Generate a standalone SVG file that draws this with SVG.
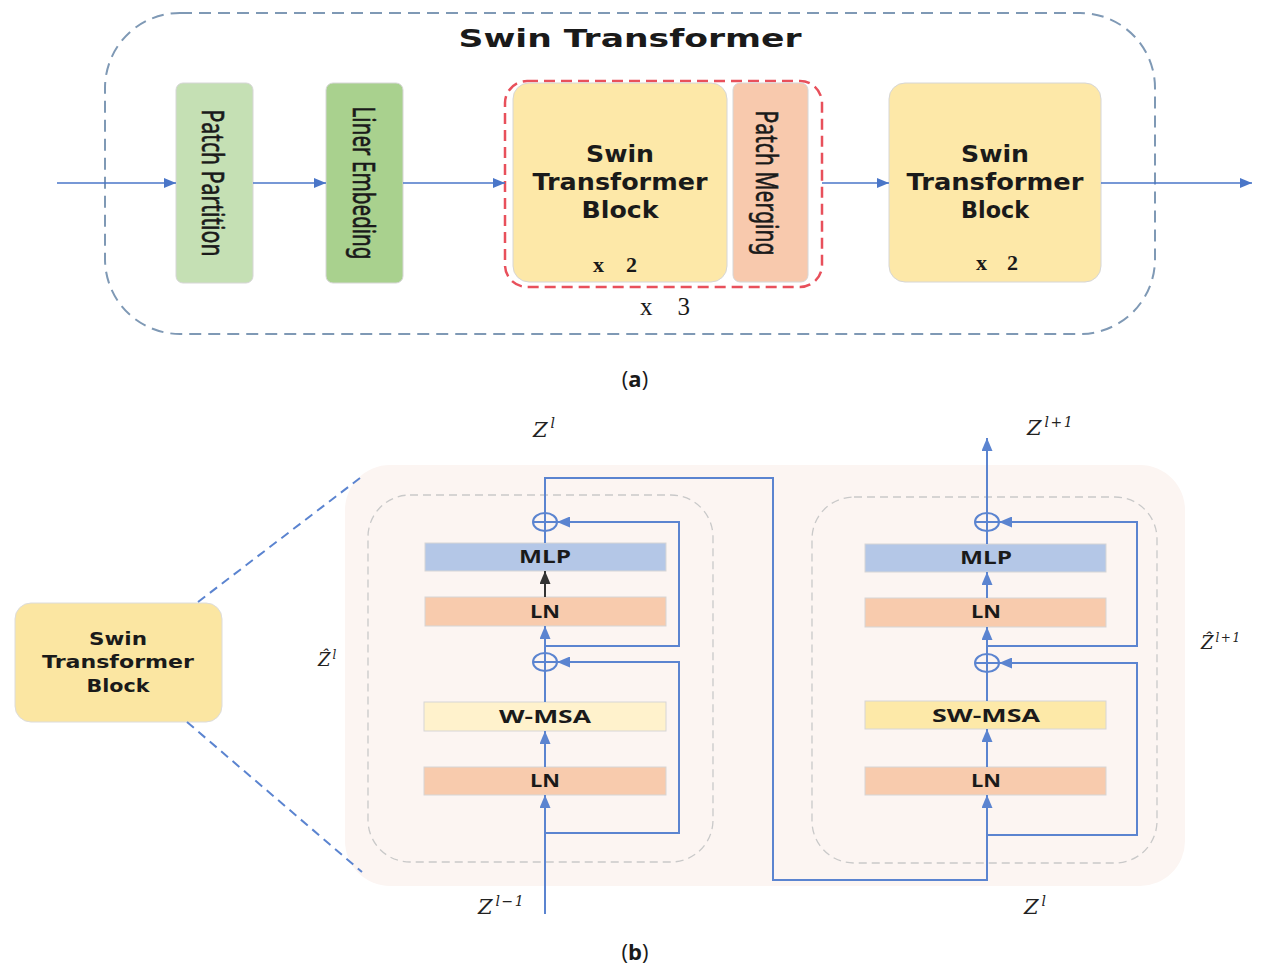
<svg xmlns="http://www.w3.org/2000/svg" width="1270" height="966" viewBox="0 0 1270 966">
<defs>
<style>
.sans{font-family:"DejaVu Sans",Verdana,sans-serif;font-weight:bold;fill:#1a1a1a}
.rot{font-family:"Noto Sans","Open Sans",sans-serif;fill:#1a1a1a;stroke:#1a1a1a;stroke-width:0.45}
.lab{font-family:"Open Sans","Noto Sans",sans-serif;font-weight:bold;fill:#1a1a1a}
.math{font-family:"DejaVu Serif","Liberation Serif",serif;font-style:italic;fill:#222}
.ser{font-family:"Liberation Serif","DejaVu Serif",serif;fill:#1a1a1a}
.cap{font-family:"Open Sans","Noto Sans",sans-serif;fill:#1a1a1a;font-size:22px}
.box{stroke:#d6d6d6;stroke-width:1}
.con{fill:none;stroke:#5b84d0;stroke-width:2}
.dash{fill:none;stroke:#5b84d0;stroke-width:2;stroke-dasharray:9 6}
</style>
<marker id="ah" viewBox="0 0 12 10" refX="12" refY="5" markerWidth="12" markerHeight="10" markerUnits="userSpaceOnUse" orient="auto"><path d="M0,0 L12,5 L0,10 z" fill="#4a76c8"/></marker>
<marker id="ahb" viewBox="0 0 13 11" refX="13" refY="5.5" markerWidth="13" markerHeight="11" markerUnits="userSpaceOnUse" orient="auto"><path d="M0,0 L13,5.5 L0,11 z" fill="#5b84d0"/></marker>
<marker id="ahk" viewBox="0 0 13 11" refX="13" refY="5.5" markerWidth="13" markerHeight="11" markerUnits="userSpaceOnUse" orient="auto"><path d="M0,0 L13,5.5 L0,11 z" fill="#333"/></marker>
</defs>
<rect width="1270" height="966" fill="#ffffff"/>

<!-- (a) -->
<g id="swin-transformer-frame">
<rect x="105" y="13" width="1050" height="321" rx="75" fill="none" stroke="#7f99b5" stroke-width="2" stroke-dasharray="12 7"/>
<text class="sans" x="630" y="47" font-size="25" text-anchor="middle" textLength="343" lengthAdjust="spacingAndGlyphs">Swin Transformer</text>
</g>
<g id="patch-partition">
<rect class="box" x="176" y="83" width="77" height="200" rx="7" fill="#c5e0b4"/>
<text class="rot" transform="translate(202,183) rotate(90) scale(1,1.35)" x="0" y="0" font-size="23" text-anchor="middle" textLength="147" lengthAdjust="spacingAndGlyphs">Patch Partition</text>
</g>
<g id="liner-embedding">
<rect class="box" x="326" y="83" width="77" height="200" rx="7" fill="#a9d18e"/>
<text class="rot" transform="translate(353,183) rotate(90) scale(1,1.35)" x="0" y="0" font-size="23" text-anchor="middle" textLength="153" lengthAdjust="spacingAndGlyphs">Liner Embeding</text>
</g>
<g id="stage-repeat">
<rect x="505" y="81" width="317" height="206" rx="22" fill="none" stroke="#e8505b" stroke-width="2.5" stroke-dasharray="11 6"/>
<text class="ser" x="665" y="315" font-size="25" text-anchor="middle" textLength="50" lengthAdjust="spacing">x 3</text>
</g>
<g id="swin-block-1">
<rect class="box" x="513" y="83" width="214" height="199" rx="16" fill="#fde8a8"/>
<text class="sans" x="620" y="162" font-size="23" text-anchor="middle" textLength="68" lengthAdjust="spacingAndGlyphs">Swin</text>
<text class="sans" x="620" y="190" font-size="23" text-anchor="middle" textLength="175" lengthAdjust="spacingAndGlyphs">Transformer</text>
<text class="sans" x="620" y="218" font-size="23" text-anchor="middle" textLength="77" lengthAdjust="spacingAndGlyphs">Block</text>
<text class="ser" x="615" y="272" font-size="22" font-weight="bold" text-anchor="middle" textLength="44" lengthAdjust="spacing">x 2</text>
</g>
<g id="patch-merging">
<rect class="box" x="733" y="83" width="75" height="199" rx="7" fill="#f8c9ad"/>
<text class="rot" transform="translate(756,183) rotate(90) scale(1,1.35)" x="0" y="0" font-size="23" text-anchor="middle" textLength="145" lengthAdjust="spacingAndGlyphs">Patch Merging</text>
</g>
<g id="swin-block-2">
<rect class="box" x="889" y="83" width="212" height="199" rx="16" fill="#fde8a8"/>
<text class="sans" x="995" y="162" font-size="23" text-anchor="middle" textLength="68" lengthAdjust="spacingAndGlyphs">Swin</text>
<text class="sans" x="995" y="190" font-size="23" text-anchor="middle" textLength="177" lengthAdjust="spacingAndGlyphs">Transformer</text>
<text class="sans" x="995" y="218" font-size="23" text-anchor="middle" textLength="68" lengthAdjust="spacingAndGlyphs">Block</text>
<text class="ser" x="997" y="270" font-size="22" font-weight="bold" text-anchor="middle" textLength="42" lengthAdjust="spacing">x 2</text>
</g>
<g id="connectors-a" fill="none" stroke="#4a76c8" stroke-width="1.6">
<line x1="57" y1="183" x2="176" y2="183" marker-end="url(#ah)"/>
<line x1="253" y1="183" x2="326" y2="183" marker-end="url(#ah)"/>
<line x1="403" y1="183" x2="505" y2="183" marker-end="url(#ah)"/>
<line x1="822" y1="183" x2="889" y2="183" marker-end="url(#ah)"/>
<line x1="1101" y1="183" x2="1252" y2="183" marker-end="url(#ah)"/>
</g>
<text class="cap" x="635" y="387" text-anchor="middle">(<tspan font-weight="bold">a</tspan>)</text>

<!-- (b) -->
<g id="block-detail-bg">
<rect x="345" y="465" width="840" height="421" rx="45" fill="#fcf5f2"/>
<rect x="368" y="495" width="345" height="367" rx="42" fill="none" stroke="#c9c9c9" stroke-width="1.3" stroke-dasharray="8 5"/>
<rect x="812" y="497" width="345" height="366" rx="42" fill="none" stroke="#c9c9c9" stroke-width="1.3" stroke-dasharray="8 5"/>
</g>
<g id="swin-block-small">
<rect x="15" y="603" width="207" height="119" rx="16" fill="#fbe6a2" stroke="#dcdcdc" stroke-width="1"/>
<text class="sans" x="118" y="645" font-size="18" text-anchor="middle" textLength="58" lengthAdjust="spacingAndGlyphs">Swin</text>
<text class="sans" x="118" y="668" font-size="18" text-anchor="middle" textLength="152" lengthAdjust="spacingAndGlyphs">Transformer</text>
<text class="sans" x="118" y="692" font-size="18" text-anchor="middle" textLength="63" lengthAdjust="spacingAndGlyphs">Block</text>
</g>
<g id="zoom-lines">
<line class="dash" x1="198" y1="602" x2="360" y2="478"/>
<line class="dash" x1="187" y1="722" x2="362" y2="872"/>
</g>

<g id="left-mlp"><rect class="box" x="425" y="543" width="241" height="28" fill="#b4c7e7"/><text class="lab" x="545" y="563" font-size="18" text-anchor="middle" textLength="52" lengthAdjust="spacingAndGlyphs">MLP</text></g>
<g id="left-ln2"><rect class="box" x="425" y="597" width="241" height="29" fill="#f8cbad"/><text class="lab" x="545" y="618" font-size="18" text-anchor="middle" textLength="30" lengthAdjust="spacingAndGlyphs">LN</text></g>
<g id="left-wmsa"><rect class="box" x="424" y="702" width="242" height="29" fill="#fff2cc"/><text class="lab" x="545" y="723" font-size="18" text-anchor="middle" textLength="92" lengthAdjust="spacingAndGlyphs">W-MSA</text></g>
<g id="left-ln1"><rect class="box" x="424" y="767" width="242" height="28" fill="#f8cbad"/><text class="lab" x="545" y="787" font-size="18" text-anchor="middle" textLength="30" lengthAdjust="spacingAndGlyphs">LN</text></g>

<g id="right-mlp"><rect class="box" x="865" y="544" width="241" height="28" fill="#b4c7e7"/><text class="lab" x="986" y="564" font-size="18" text-anchor="middle" textLength="52" lengthAdjust="spacingAndGlyphs">MLP</text></g>
<g id="right-ln2"><rect class="box" x="865" y="598" width="241" height="29" fill="#f8cbad"/><text class="lab" x="986" y="618" font-size="18" text-anchor="middle" textLength="30" lengthAdjust="spacingAndGlyphs">LN</text></g>
<g id="right-swmsa"><rect class="box" x="865" y="701" width="241" height="28" fill="#fde9a8"/><text class="lab" x="986" y="722" font-size="18" text-anchor="middle" textLength="108" lengthAdjust="spacingAndGlyphs">SW-MSA</text></g>
<g id="right-ln1"><rect class="box" x="865" y="767" width="241" height="28" fill="#f8cbad"/><text class="lab" x="986" y="787" font-size="18" text-anchor="middle" textLength="30" lengthAdjust="spacingAndGlyphs">LN</text></g>

<g id="left-add1"><ellipse class="con" cx="545" cy="662" rx="12" ry="9"/><line class="con" x1="533" y1="662" x2="557" y2="662"/></g>
<g id="left-add2"><ellipse class="con" cx="545" cy="522" rx="12" ry="9"/><line class="con" x1="533" y1="522" x2="557" y2="522"/></g>
<g id="right-add1"><ellipse class="con" cx="987" cy="663" rx="12" ry="9"/><line class="con" x1="975" y1="663" x2="999" y2="663"/></g>
<g id="right-add2"><ellipse class="con" cx="987" cy="522" rx="12" ry="9"/><line class="con" x1="975" y1="522" x2="999" y2="522"/></g>

<g id="connectors-b">
<line class="con" x1="545" y1="914" x2="545" y2="795" marker-end="url(#ahb)"/>
<line class="con" x1="545" y1="767" x2="545" y2="731" marker-end="url(#ahb)"/>
<line class="con" x1="545" y1="702" x2="545" y2="653"/>
<line class="con" x1="545" y1="671" x2="545" y2="626" marker-end="url(#ahb)"/>
<line x1="545" y1="597" x2="545" y2="571" stroke="#333" stroke-width="2" marker-end="url(#ahk)"/>
<line class="con" x1="545" y1="543" x2="545" y2="513"/>
<path class="con" d="M545,531 V478 H773 V880 H987 V795" marker-end="url(#ahb)"/>
<path class="con" d="M545,833 H679 V662 H557" marker-end="url(#ahb)"/>
<path class="con" d="M545,646 H679 V522 H557" marker-end="url(#ahb)"/>

<line class="con" x1="987" y1="767" x2="987" y2="729" marker-end="url(#ahb)"/>
<line class="con" x1="987" y1="701" x2="987" y2="654"/>
<line class="con" x1="987" y1="672" x2="987" y2="627" marker-end="url(#ahb)"/>
<line class="con" x1="987" y1="598" x2="987" y2="572" marker-end="url(#ahb)"/>
<line class="con" x1="987" y1="544" x2="987" y2="513"/>
<line class="con" x1="987" y1="531" x2="987" y2="438" marker-end="url(#ahb)"/>
<path class="con" d="M987,835 H1137 V663 H999" marker-end="url(#ahb)"/>
<path class="con" d="M987,646 H1137 V522 H999" marker-end="url(#ahb)"/>
</g>

<g id="math-labels">
<text class="math" x="533" y="437" font-size="21">Z<tspan dx="3" dy="-9" font-size="14">l</tspan></text>
<text class="math" x="1027" y="435" font-size="21">Z<tspan dx="3" dy="-8" font-size="14" letter-spacing="1.5">l+1</tspan></text>
<text class="math" x="318" y="666" font-size="18">Ẑ<tspan dx="2" dy="-7" font-size="12">l</tspan></text>
<text class="math" x="1201" y="649" font-size="18">Ẑ<tspan dx="2" dy="-7" font-size="12" letter-spacing="1.5">l+1</tspan></text>
<text class="math" x="478" y="914" font-size="21">Z<tspan dx="3" dy="-8" font-size="14" letter-spacing="1.5">l−1</tspan></text>
<text class="math" x="1024" y="914" font-size="21">Z<tspan dx="3" dy="-8" font-size="14">l</tspan></text>
</g>
<text class="cap" x="635" y="960" text-anchor="middle">(<tspan font-weight="bold">b</tspan>)</text>
</svg>
